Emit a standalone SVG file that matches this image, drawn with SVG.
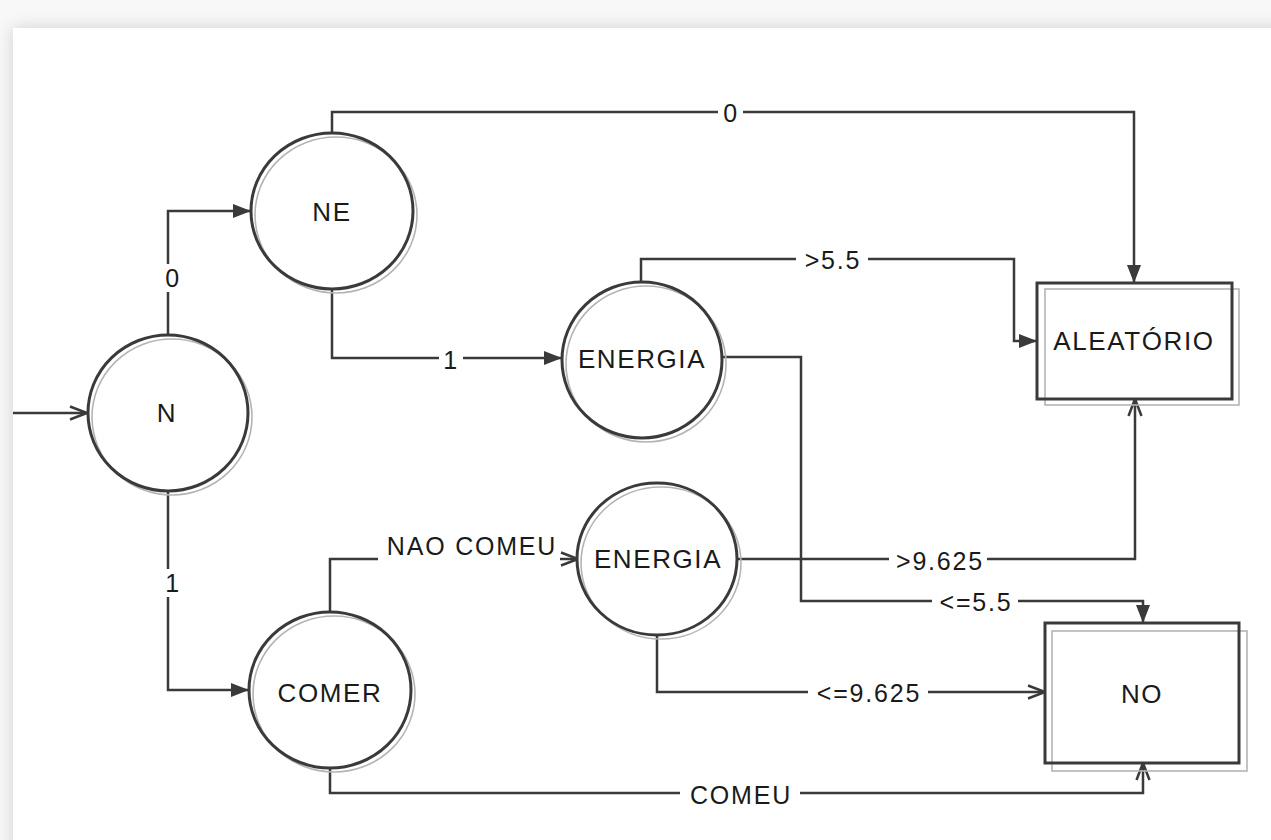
<svg xmlns="http://www.w3.org/2000/svg" width="1271" height="840" viewBox="0 0 1271 840">
<style>
.edge{fill:none;stroke:#3a3a3a;stroke-width:2.5}
.nodeFill{fill:#fff;stroke:none}
.shadow{fill:none;stroke:#b4b4b4;stroke-width:1.6}
.outline{fill:none;stroke:#3a3a3a;stroke-width:3}
.ntext{font-family:"Liberation Sans",Arial,sans-serif;font-size:26px;fill:#1a1a1a;text-anchor:middle;letter-spacing:1.6px}
.ltext{font-family:"Liberation Sans",Arial,sans-serif;font-size:25px;fill:#1a1a1a;text-anchor:middle;letter-spacing:1.8px}
.lbg{fill:#fff}
</style>
<defs>
<marker id="fa" markerUnits="userSpaceOnUse" markerWidth="20" markerHeight="16" refX="18" refY="7" orient="auto">
<path d="M0,0 L18,7 L0,14 z" fill="#3a3a3a"/>
</marker>
<marker id="oa" markerUnits="userSpaceOnUse" markerWidth="22" markerHeight="18" refX="18" refY="8" orient="auto">
<path d="M1,1.5 L18,8 L1,14.5" fill="none" stroke="#3a3a3a" stroke-width="2.5"/>
</marker>
<filter id="ps" x="-5%" y="-5%" width="110%" height="110%">
<feGaussianBlur stdDeviation="8"/>
</filter>
</defs>
<rect x="0" y="0" width="1271" height="840" fill="#f8f8f8"/>
<rect x="13" y="28" width="1300" height="850" fill="#cfcfcf" filter="url(#ps)"/>
<rect x="13" y="28" width="1300" height="850" fill="#fff"/>

<g id="connectors">
<path class="edge" d="M13,413 H87" marker-end="url(#oa)"/>
<path class="edge" d="M168,335 V211 H251" marker-end="url(#fa)"/>
<path class="edge" d="M168,491 V690 H249" marker-end="url(#fa)"/>
<path class="edge" d="M332,133 V112 H1134 V283" marker-end="url(#fa)"/>
<path class="edge" d="M332,289 V358 H562" marker-end="url(#fa)"/>
<path class="edge" d="M641,282 V259 H1014 V341 H1037" marker-end="url(#fa)"/>
<path class="edge" d="M721,357 H801 V601 H1143 V623" marker-end="url(#fa)"/>
<path class="edge" d="M737,559 H1135 V399" marker-end="url(#oa)"/>
<path class="edge" d="M657,635 V692 H1045" marker-end="url(#oa)"/>
<path class="edge" d="M330,612 V559 H578" marker-end="url(#oa)"/>
<path class="edge" d="M330,768 V793 H1143 V763" marker-end="url(#oa)"/>

<rect class="lbg" x="160" y="264" width="24" height="28"/>
<text class="ltext" x="173" y="287">0</text>
<rect class="lbg" x="160" y="569" width="24" height="28"/>
<text class="ltext" x="173" y="592">1</text>
<rect class="lbg" x="718" y="99" width="25" height="28"/>
<text class="ltext" x="731" y="122">0</text>
<rect class="lbg" x="439" y="345" width="24" height="28"/>
<text class="ltext" x="451" y="369">1</text>
<rect class="lbg" x="796" y="246" width="72" height="28"/>
<text class="ltext" x="833" y="269">&gt;5.5</text>
<rect class="lbg" x="889" y="546" width="98" height="28"/>
<text class="ltext" x="940" y="570">&gt;9.625</text>
<rect class="lbg" x="932" y="588" width="86" height="28"/>
<text class="ltext" x="976" y="611">&lt;=5.5</text>
<rect class="lbg" x="808" y="679" width="120" height="28"/>
<text class="ltext" x="869" y="702">&lt;=9.625</text>
<rect class="lbg" x="680" y="780" width="120" height="28"/>
<text class="ltext" x="741" y="804">COMEU</text>
<rect class="lbg" x="378" y="530" width="182" height="34"/>
<text class="ltext" x="472" y="555">NAO COMEU</text>
</g>

<g id="node-N">
<ellipse class="nodeFill" cx="168" cy="413" rx="80" ry="78"/>
<ellipse class="shadow" cx="172" cy="417" rx="80" ry="78"/>
<ellipse class="outline" cx="168" cy="413" rx="80" ry="78"/>
<text class="ntext" x="167" y="422">N</text>
</g>
<g id="node-NE">
<ellipse class="nodeFill" cx="332" cy="211" rx="81" ry="78"/>
<ellipse class="shadow" cx="336" cy="215" rx="81" ry="78"/>
<ellipse class="outline" cx="332" cy="211" rx="81" ry="78"/>
<text class="ntext" x="332" y="221">NE</text>
</g>
<g id="node-ENERGIA1">
<ellipse class="nodeFill" cx="642" cy="360" rx="80" ry="78"/>
<ellipse class="shadow" cx="646" cy="364" rx="80" ry="78"/>
<ellipse class="outline" cx="642" cy="360" rx="80" ry="78"/>
<text class="ntext" x="642" y="368">ENERGIA</text>
</g>
<g id="node-ENERGIA2">
<ellipse class="nodeFill" cx="657" cy="559" rx="80" ry="76"/>
<ellipse class="shadow" cx="661" cy="563" rx="80" ry="76"/>
<ellipse class="outline" cx="657" cy="559" rx="80" ry="76"/>
<text class="ntext" x="658" y="568">ENERGIA</text>
</g>
<g id="node-COMER">
<ellipse class="nodeFill" cx="330" cy="690" rx="81" ry="78"/>
<ellipse class="shadow" cx="334" cy="694" rx="81" ry="78"/>
<ellipse class="outline" cx="330" cy="690" rx="81" ry="78"/>
<text class="ntext" x="330" y="702">COMER</text>
</g>
<g id="node-ALEATORIO">
<rect class="nodeFill" x="1037" y="283" width="195" height="116"/>
<rect class="shadow" x="1045" y="289" width="194" height="116"/>
<rect class="outline" x="1037" y="283" width="195" height="116"/>
<text class="ntext" x="1134" y="350">ALEATÓRIO</text>
</g>
<g id="node-NO">
<rect class="nodeFill" x="1045" y="623" width="194" height="140"/>
<rect class="shadow" x="1052" y="631" width="195" height="140"/>
<rect class="outline" x="1045" y="623" width="194" height="140"/>
<text class="ntext" x="1142" y="703">NO</text>
</g>
</svg>
